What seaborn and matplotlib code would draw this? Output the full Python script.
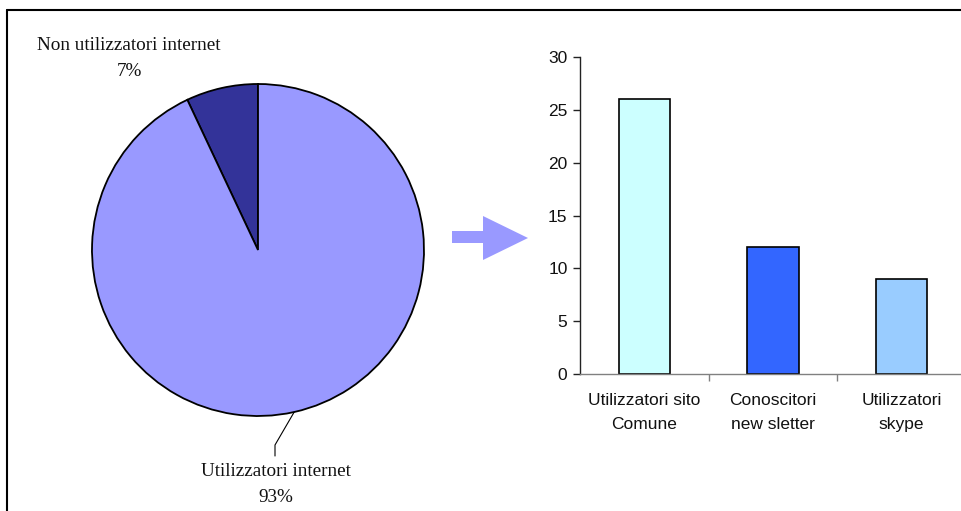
import numpy as np
import matplotlib
matplotlib.use("Agg")
import matplotlib.pyplot as plt
from matplotlib.lines import Line2D
from matplotlib.patches import Polygon
import seaborn as sns
import pandas as pd

# --- data ---------------------------------------------------------------
pie_labels = ["Non utilizzatori internet", "Utilizzatori internet"]
pie_values = [7, 93]
pie_colors = ["#333399", "#9999FF"]

bar_categories = ["Utilizzatori sito\nComune", "Conoscitori\nnew sletter", "Utilizzatori\nskype"]
bar_values = [26, 12, 9]
bar_colors = ["#CCFFFF", "#3366FF", "#99CCFF"]
y_ticks = [0, 5, 10, 15, 20, 25, 30]

W, H = 962, 511
sns.set_style("white")
plt.rcParams["font.family"] = ["Liberation Sans", "DejaVu Sans"]

fig = plt.figure(figsize=(W / 100, H / 100), dpi=100)
fig.patch.set_facecolor("white")


def fx(px):
    return px / W


def fy(py):
    return 1 - py / H


# --- pie ----------------------------------------------------------------
cx, cy, r = 258, 250, 166
ax_pie = fig.add_axes([fx(cx - r), fy(cy + r), 2 * r / W, 2 * r / H])
wedges, _ = ax_pie.pie(pie_values, colors=pie_colors, startangle=90, counterclock=True,
                       radius=1, wedgeprops=dict(edgecolor="black", linewidth=1.3))
ax_pie.set_xlim(-1, 1)
ax_pie.set_ylim(-1, 1)
ax_pie.set_aspect("auto")
ax_pie.axis("off")

total = sum(pie_values)
serif = ["Liberation Serif", "DejaVu Serif"]
pie_fs = 13.8
# label of the small slice
fig.text(fx(129), fy(46), pie_labels[0], ha="center", va="center", fontsize=pie_fs,
         family=serif, color="#111111")
fig.text(fx(129), fy(71), f"{round(100 * pie_values[0] / total)}%", ha="center", va="center",
         fontsize=pie_fs, family=serif, color="#111111")

# leader line from the middle of the large slice
w = wedges[1]
mid = np.deg2rad((w.theta1 + w.theta2) / 2)
ex, ey = np.cos(mid), np.sin(mid)
lx = (275 - cx) / r
ax_pie.add_line(Line2D([ex, lx, lx], [ey, -(445 - cy) / r, -(456 - cy) / r],
                       color="black", lw=0.8, clip_on=False))
fig.text(fx(276), fy(472), pie_labels[1], ha="center", va="center", fontsize=pie_fs,
         family=serif, color="#111111")
fig.text(fx(276), fy(498), f"{round(100 * pie_values[1] / total)}%", ha="center", va="center",
         fontsize=pie_fs, family=serif, color="#111111")

# --- arrow between the charts -------------------------------------------
arrow_px = [(452, 231), (483, 231), (483, 216), (528, 238), (483, 260), (483, 243), (452, 243)]
fig.patches.append(Polygon([(fx(x), fy(y)) for x, y in arrow_px], closed=True,
                           transform=fig.transFigure, facecolor="#9999FF", edgecolor="none"))

# --- bar chart ----------------------------------------------------------
left, right, top, bottom = 580, 966, 57, 374
ax = fig.add_axes([fx(left), fy(bottom), (right - left) / W, (bottom - top) / H])
df = pd.DataFrame({"cat": bar_categories, "val": bar_values})
sns.barplot(data=df, x="cat", y="val", hue="cat", palette=bar_colors, legend=False,
            width=0.4, edgecolor="black", linewidth=1.2, saturation=1, ax=ax)
ax.set_xlim(-0.5, len(bar_categories) - 0.5)
ax.set_ylim(0, 30)
ax.set_yticks(y_ticks)
ax.set_xlabel("")
ax.set_ylabel("")
for s in ["top", "right"]:
    ax.spines[s].set_visible(False)
ax.spines["left"].set_color("#222222")
ax.spines["bottom"].set_color("#808080")
ax.spines["left"].set_linewidth(1.0)
ax.spines["bottom"].set_linewidth(1.0)
fs = 12.5
ax.tick_params(axis="y", direction="out", length=5, width=1, color="#222222",
               labelsize=fs, pad=4, left=True)
ax.tick_params(axis="x", which="major", length=0, labelsize=fs, pad=14)
ax.set_xticks(np.arange(len(bar_categories)) + 0.5, minor=True)
ax.tick_params(axis="x", which="minor", direction="out", length=5, width=1, color="#808080",
               bottom=True)
for t in ax.get_xticklabels():
    t.set_linespacing(1.7)
    t.set_color("#111111")
for t in ax.get_yticklabels():
    t.set_color("#111111")

# --- frame lines on the left and top ------------------------------------
fig.add_artist(Line2D([fx(7), fx(7)], [fy(10), 0], transform=fig.transFigure,
                      color="black", lw=1.5))
fig.add_artist(Line2D([fx(7), 1], [fy(10), fy(10)], transform=fig.transFigure,
                      color="black", lw=1.5))

fig.savefig("out.png", dpi=100)
